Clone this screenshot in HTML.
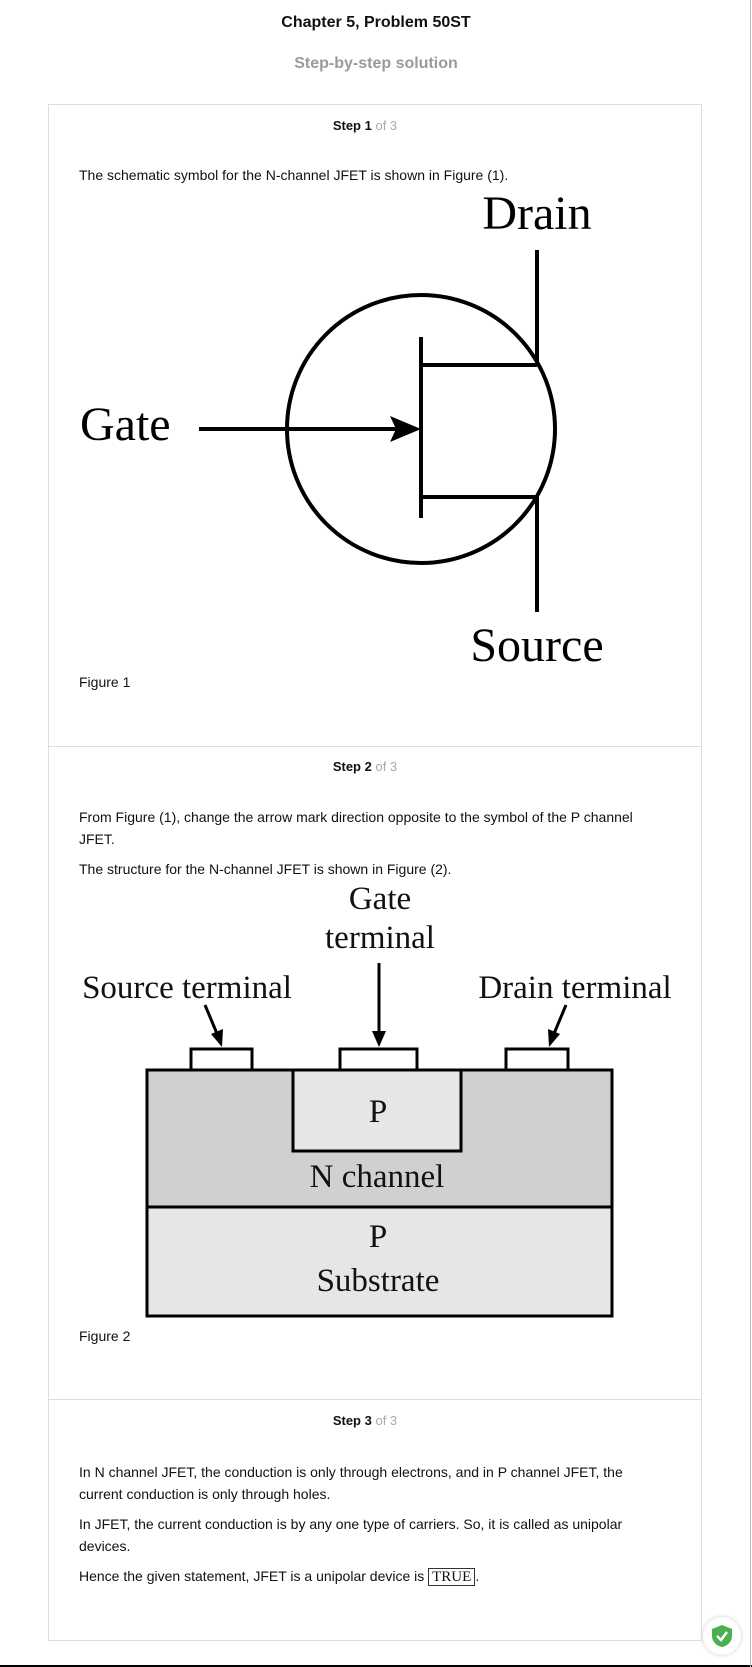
<!DOCTYPE html>
<html><head><meta charset="utf-8"><style>
body{margin:0;width:752px;height:1667px;position:relative;background:#fff;font-family:"Liberation Sans",Arial,sans-serif;color:#111;overflow:hidden}
.p{position:absolute;left:79px;font-size:14px;line-height:22px;width:580px}
.c{position:absolute;left:0;width:752px;text-align:center}
.s{position:absolute;left:-11px;width:752px;text-align:center;font-size:13px}
</style></head><body>
<div class="c" style="top:14px;font-size:16px;font-weight:bold">Chapter 5, Problem 50ST</div>
<div class="c" style="top:55px;font-size:16px;font-weight:bold;color:#9a9a9a">Step-by-step solution</div>
<div style="position:absolute;left:48px;top:104px;width:654px;height:1537px;border:1px solid #ddd;box-sizing:border-box"></div>
<div style="position:absolute;left:48px;top:746px;width:654px;border-top:1px solid #ddd"></div>
<div style="position:absolute;left:48px;top:1399px;width:654px;border-top:1px solid #ddd"></div>
<div style="position:absolute;left:0;top:1665px;width:752px;border-top:2px solid #000"></div>
<div style="position:absolute;left:750px;top:0;height:1667px;border-left:1px solid #bbb"></div>
<div class="s" style="top:118px"><b>Step 1</b> <span style="color:#aaa">of 3</span></div>
<div class="p" style="top:164px">The schematic symbol for the N-channel JFET is shown in Figure (1).</div>
<div class="p" style="top:671px">Figure 1</div>
<div class="s" style="top:759px"><b>Step 2</b> <span style="color:#aaa">of 3</span></div>
<div class="p" style="top:806px">From Figure (1), change the arrow mark direction opposite to the symbol of the P channel JFET.</div>
<div class="p" style="top:858px">The structure for the N-channel JFET is shown in Figure (2).</div>
<div class="p" style="top:1325px">Figure 2</div>
<div class="s" style="top:1413px"><b>Step 3</b> <span style="color:#aaa">of 3</span></div>
<div class="p" style="top:1461px">In N channel JFET, the conduction is only through electrons, and in P channel JFET, the current conduction is only through holes.</div>
<div class="p" style="top:1513px">In JFET, the current conduction is by any one type of carriers. So, it is called as unipolar devices.</div>
<div class="p" style="top:1565px">Hence the given statement, JFET is a unipolar device is <span style="border:1px solid #333;font-family:'Liberation Serif',serif;font-size:15px;padding:0 3px">TRUE</span>.</div>
<svg style="position:absolute;left:0;top:0" width="752" height="1667" font-family="Liberation Serif,serif" fill="none" stroke="#000">
<g stroke-width="4">
<circle cx="421" cy="429" r="134"/>
<line x1="199" y1="429" x2="400" y2="429"/>
<line x1="421" y1="337" x2="421" y2="518"/>
<line x1="421" y1="365" x2="537" y2="365"/>
<line x1="421" y1="497" x2="537" y2="497"/>
<line x1="537" y1="250" x2="537" y2="365"/>
<line x1="537" y1="497" x2="537" y2="612"/>
</g>
<polygon points="421,429 390,416 396,429 390,442" fill="#000" stroke="none"/>
<g fill="#000" stroke="none" font-size="48">
<text x="537" y="229" text-anchor="middle">Drain</text>
<text x="80" y="440">Gate</text>
<text x="537" y="661" text-anchor="middle">Source</text>
</g>
<g stroke-width="3">
<rect x="147" y="1070" width="465" height="137" fill="#d0d0d0"/>
<rect x="147" y="1207" width="465" height="109" fill="#e6e6e6"/>
<rect x="293" y="1070" width="168" height="81" fill="#e6e6e6"/>
<rect x="191" y="1049" width="61" height="21" fill="#fff"/>
<rect x="340" y="1049" width="77" height="21" fill="#fff"/>
<rect x="506" y="1049" width="62" height="21" fill="#fff"/>
<line x1="205" y1="1005" x2="218" y2="1036"/>
<line x1="379" y1="963" x2="379" y2="1036"/>
<line x1="566" y1="1005" x2="553" y2="1036"/>
</g>
<g fill="#000" stroke="none">
<polygon points="222,1047 211,1034 223,1029"/>
<polygon points="379,1047 372,1031 386,1031"/>
<polygon points="549,1047 548,1029 560,1034"/>
</g>
<g fill="#111" stroke="none" font-size="33" text-anchor="middle">
<text x="380" y="909">Gate</text>
<text x="380" y="948">terminal</text>
<text x="187" y="998">Source terminal</text>
<text x="575" y="998">Drain terminal</text>
<text x="378" y="1122">P</text>
<text x="377" y="1187">N channel</text>
<text x="378" y="1247">P</text>
<text x="378" y="1291">Substrate</text>
</g>
</svg>
<div style="position:absolute;left:703px;top:1617px;width:38px;height:38px;border-radius:50%;background:#fff;box-shadow:0 0 4px #ccc"></div>
<svg style="position:absolute;left:711px;top:1624px" width="22" height="24"><path d="M11 1 L21 5 V12 C21 18 16 22 11 23 C6 22 1 18 1 12 V5 Z" fill="#4caf50"/><path d="M6 12 L10 16 L16 8" stroke="#fff" stroke-width="2.5" fill="none"/></svg>
</body></html>
